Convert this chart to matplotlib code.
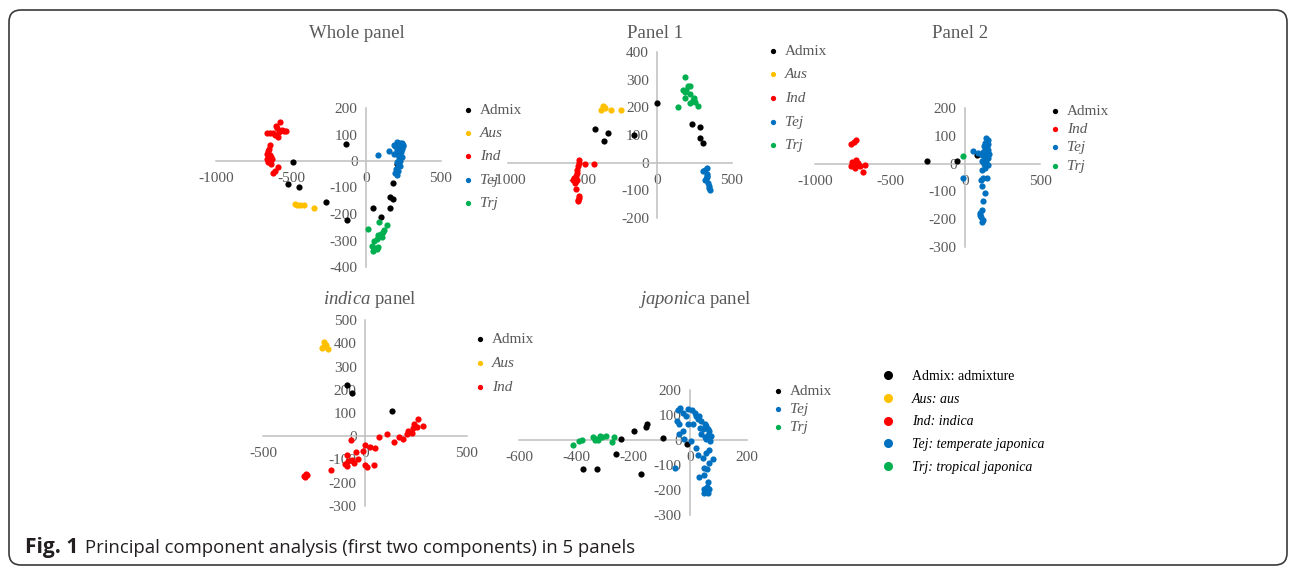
import matplotlib
matplotlib.use("Agg")
import matplotlib.pyplot as plt
from matplotlib.lines import Line2D
from matplotlib.patches import FancyBboxPatch
from matplotlib.transforms import IdentityTransform

W, H = 1295, 571

# ---- data (PC1, PC2) ----
whole_admix = [(-133, 65), (-484, -3), (-522, -86), (-444, -97), (-267, -155), (-129, -221),
               (44, -178), (98, -210), (160, -178), (160, -137), (178, -144), (178, -82), (204, -12)]
whole_aus = [(-473, -162), (-458, -165), (-440, -165), (-413, -167), (-347, -178)]
whole_ind = [(-573, 146), (-600, 133), (-591, 123), (-562, 117), (-547, 113), (-533, 113), (-578, 110),
             (-658, 104), (-640, 104), (-618, 104), (-607, 97), (-584, 91), (-640, 59), (-647, 46),
             (-656, 37), (-662, 27), (-640, 21), (-633, 14), (-662, 8), (-644, 1), (-629, 8),
             (-651, -5), (-633, -12), (-584, -24), (-607, -37), (-618, -44)]
whole_tej = [(82, 21), (153, 36), (204, 72), (227, 69), (249, 62), (193, 56), (216, 53), (238, 46),
             (204, 40), (231, 33), (187, 27), (216, 21), (222, 8), (209, -5), (227, -18), (200, -31),
             (216, -37), (193, -46), (204, -54), (244, 56), (187, 62), (238, 14), (213, 66), (240, 68),
             (230, 58), (220, 30), (225, 0), (212, -20)]
whole_trj = [(16, -255), (87, -232), (138, -240), (120, -259), (111, -268), (98, -274), (82, -281),
             (104, -285), (71, -294), (56, -300), (38, -319), (53, -328), (71, -333), (44, -341), (82, -326)]

p1_admix = [(-4, 216), (-415, 123), (-328, 107), (-355, 80), (-154, 101), (230, 141), (288, 130),
            (286, 90), (304, 72)]
p1_aus = [(-366, 206), (-348, 198), (-310, 192), (-377, 192), (-243, 192), (-355, 200)]
p1_ind = [(-522, 11), (-527, -1), (-531, -13), (-536, -25), (-540, -37), (-545, -49), (-556, -55),
          (-563, -64), (-549, -73), (-538, -61), (-482, -4), (-426, -4), (-545, -95), (-527, -122),
          (-534, -134), (-522, -128), (-531, -140)]
p1_tej = [(333, -19), (321, -28), (308, -31), (330, -40), (330, -52), (321, -64), (337, -73),
          (344, -83), (348, -92), (355, -98), (326, -59), (335, -47)]
p1_trj = [(188, 310), (203, 278), (219, 278), (174, 264), (192, 264), (183, 255), (221, 249),
          (188, 234), (246, 234), (219, 216), (252, 218), (270, 206), (136, 201), (237, 225)]

p2_admix = [(-256, 11), (-51, 11), (80, 30)]
p2_ind = [(-727, 85), (-740, 77), (-760, 71), (-727, 14), (-756, 5), (-740, 0), (-711, 2),
          (-667, -4), (-762, -10), (-733, -16), (-700, -10), (-682, -31), (-749, 2), (-722, -4)]
p2_tej = [(51, 45), (89, 38), (-11, -50), (111, -22), (122, -52), (107, -58), (144, -52), (111, -82),
          (131, -104), (118, -136), (111, -167), (100, -176), (109, -191), (118, -203), (111, -209),
          (100, -185), (140, 93), (150, 85), (135, 75), (155, 70), (125, 65), (145, 60), (130, 50),
          (155, 50), (120, 40), (140, 40), (160, 35), (110, 30), (130, 25), (150, 20), (115, 10),
          (140, 5), (125, 0), (150, -5), (135, -15)]
p2_trj = [(-11, 27)]

indica_admix = [(-90, 221), (-62, 185), (131, 109)]
indica_aus = [(-212, 378), (-201, 404), (-191, 392), (-180, 374), (-204, 385)]
indica_ind = [(261, 75), (240, 52), (286, 42), (237, 35), (253, 38), (212, 21), (229, 14), (204, 9),
              (188, -11), (168, -5), (144, -25), (106, 11), (70, -5), (-70, -18), (0, -39), (25, -46),
              (49, -51), (-44, -68), (-11, -65), (-90, -82), (-33, -96), (-65, -101), (-85, -108),
              (-54, -115), (-98, -119), (-90, -129), (0, -122), (8, -132), (44, -122), (-167, -146),
              (-289, -162), (-294, -176), (-286, -168), (-299, -172)]

japonica_admix = [(-377, -114), (-325, -114), (-258, -54), (-243, 3), (-197, 38), (-155, 52),
                  (-150, 65), (-173, -135), (-95, 9), (-11, -14)]
japonica_tej = [(-43, 119), (-34, 127), (-25, 110), (-8, 123), (8, 122), (16, 110), (22, 96), (28, 85),
                (39, 76), (51, 65), (56, 56), (62, 46), (68, 36), (62, 22), (74, 15), (51, 11), (39, 25),
                (45, 46), (34, 49), (71, -2), (56, 6), (-44, 76), (-39, 63), (-25, 36), (-8, 63),
                (-37, 25), (-21, 6), (4, -5), (-52, -110), (22, -32), (28, -61), (45, -72), (56, -52),
                (68, -38), (80, -75), (66, -92), (50, -110), (59, -115), (31, -146), (49, -139),
                (63, -166), (59, -186), (50, -195), (66, -195), (49, -213), (63, -213), (-13, 96),
                (12, 63), (31, 96)]
japonica_trj = [(-409, -18), (-388, -2), (-380, 2), (-342, 11), (-330, 6), (-322, 2), (-310, 11),
                (-296, 15), (-275, -7), (-267, 13), (-333, 1), (-316, 15)]

GROUP_COLORS = {"Admix": "#000000", "Aus": "#ffc000", "Ind": "#ff0000",
                "Tej": "#0070c0", "Trj": "#00b050"}
KEY_LABELS = ["Admix: admixture", "Aus: aus", "Ind: indica",
              "Tej: temperate japonica", "Trj: tropical japonica"]
CAPTION = "Principal component analysis (first two components) in 5 panels"

GRAY = "#595959"
AXIS = "#bfbfbf"

plt.rcParams["font.family"] = ["Liberation Serif", "DejaVu Serif"]
plt.rcParams["axes.unicode_minus"] = False
plt.rcParams["mathtext.fontset"] = "custom"
plt.rcParams["mathtext.rm"] = "Liberation Serif"
plt.rcParams["mathtext.it"] = "Liberation Serif:italic"

fig = plt.figure(figsize=(W / 100, H / 100), dpi=100)


def px_axes(left, right, top, bottom):
    return fig.add_axes([left / W, 1 - bottom / H, (right - left) / W, (bottom - top) / H])


def draw_panel(box, xlim, ylim, step_x, step_y, groups, title, title_xy, legend_xy, spacing):
    ax = px_axes(*box)
    ax.set_xlim(xlim)
    ax.set_ylim(ylim)
    ax.patch.set_visible(False)
    for s in ["top", "right"]:
        ax.spines[s].set_visible(False)
    for s in ["left", "bottom"]:
        ax.spines[s].set_position(("data", 0))
        ax.spines[s].set_color(AXIS)
        ax.spines[s].set_linewidth(1.1)
    ax.set_xticks(range(xlim[0], xlim[1] + 1, step_x))
    ax.set_yticks(range(ylim[0], ylim[1] + 1, step_y))
    ax.tick_params(length=0, labelsize=11, labelcolor=GRAY)
    ax.tick_params(axis="x", pad=8)
    ax.tick_params(axis="y", pad=6)

    handles = []
    for name, pts in groups:
        xs = [p[0] for p in pts]
        ys = [p[1] for p in pts]
        sc = ax.scatter(xs, ys, s=20, color=GROUP_COLORS[name], linewidths=0,
                        clip_on=False, zorder=3, label=name)
        handles.append(sc)

    fig.text(title_xy[0] / W, 1 - title_xy[1] / H, title, ha="center", va="center",
             fontsize=13.5, color=GRAY)

    leg = fig.legend(handles=handles, loc="upper left",
                     bbox_to_anchor=(legend_xy[0] / W, 1 - legend_xy[1] / H),
                     frameon=False, fontsize=11, labelcolor=GRAY, scatterpoints=1,
                     markerscale=0.85, handlelength=0.6, handletextpad=0.5,
                     labelspacing=spacing, borderpad=0, borderaxespad=0)
    for t, (name, _) in zip(leg.get_texts(), groups):
        if name != "Admix":
            t.set_style("italic")
    return ax


draw_panel((216, 441, 108, 267), (-1000, 500), (-400, 200), 500, 100,
           [("Admix", whole_admix), ("Aus", whole_aus), ("Ind", whole_ind),
            ("Tej", whole_tej), ("Trj", whole_trj)],
           "Whole panel", (357, 34), (463, 103), 0.63)

draw_panel((508, 732, 52, 218), (-1000, 500), (-200, 400), 500, 100,
           [("Admix", p1_admix), ("Aus", p1_aus), ("Ind", p1_ind),
            ("Tej", p1_tej), ("Trj", p1_trj)],
           "Panel 1", (655, 34), (768, 44), 0.65)

draw_panel((815, 1040, 108, 247), (-1000, 500), (-300, 200), 500, 100,
           [("Admix", p2_admix), ("Ind", p2_ind), ("Tej", p2_tej), ("Trj", p2_trj)],
           "Panel 2", (960, 34), (1050, 104), 0.3)

draw_panel((263, 467, 320, 506), (-500, 500), (-300, 500), 500, 100,
           [("Admix", indica_admix), ("Aus", indica_aus), ("Ind", indica_ind)],
           r"$\mathit{indica}$ panel", (370, 299), (475, 332), 0.68)

draw_panel((519, 747, 390, 515), (-600, 200), (-300, 200), 200, 100,
           [("Admix", japonica_admix), ("Tej", japonica_tej), ("Trj", japonica_trj)],
           r"$\mathit{japonic}$a panel", (695, 299), (773, 384), 0.28)

# stand-alone key
key_handles = [Line2D([], [], ls="none", marker="o", ms=5.5, color=GROUP_COLORS[g])
               for g in GROUP_COLORS]
key = fig.legend(handles=key_handles, labels=KEY_LABELS, loc="upper left",
                 bbox_to_anchor=(882 / W, 1 - 370 / H), frameon=False, fontsize=10,
                 labelcolor="#000000", handlelength=0.9, handletextpad=1.25,
                 labelspacing=0.7, borderpad=0, borderaxespad=0)
for i, t in enumerate(key.get_texts()):
    if i > 0:
        t.set_style("italic")

# rounded frame and caption
frame = FancyBboxPatch((9, H - 565), 1278, 555, boxstyle="round,pad=0,rounding_size=12",
                       transform=IdentityTransform(), facecolor="none",
                       edgecolor="#3a3a3a", linewidth=1.2)
fig.patches.append(frame)

cap_font = ["Open Sans", "DejaVu Sans"]
renderer = fig.canvas.get_renderer()
bold = fig.text(25 / W, 1 - 548 / H, "Fig. 1", fontsize=13, weight="bold",
                family=cap_font, va="center", color="#231f20")
bb = bold.get_window_extent(renderer)
bold.set_fontsize(13 * 53 / bb.width)
rest = fig.text(85 / W, 1 - 548 / H, CAPTION, fontsize=13, family=cap_font,
                va="center", color="#231f20")
rb = rest.get_window_extent(renderer)
rest.set_fontsize(13 * 547 / rb.width)

fig.savefig("out.png", dpi=100)
